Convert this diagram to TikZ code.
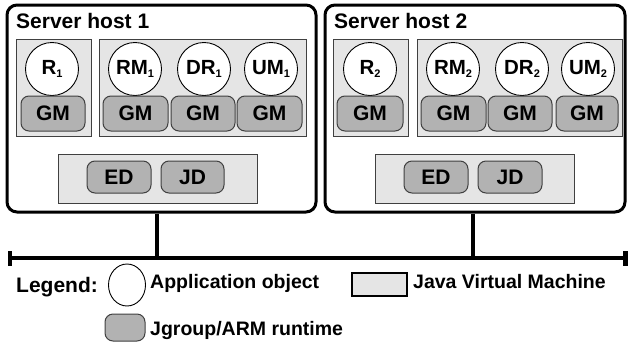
\documentclass[tikz,border=0pt]{standalone}
\usepackage{fontspec}
\setmainfont{Liberation Sans}
\usetikzlibrary{fit,shapes.geometric}

\definecolor{jvmfill}{gray}{0.9}
\definecolor{gmfill}{gray}{0.7}
\definecolor{edgegray}{gray}{0.25}

\newcommand\bfs[1]{\bfseries\fontsize{#1}{#1}\selectfont}
% small, lowered index after an object name
\newcommand\idx[1]{\raisebox{-0.32ex}{\fontsize{11}{11}\selectfont #1}}

\tikzset{
  host/.style={draw=black, line width=3pt, rounded corners=10pt, inner sep=0pt},
  jvm/.style={draw=edgegray, fill=jvmfill, line width=1pt, inner sep=0pt},
  gm/.style={draw=edgegray, fill=gmfill, line width=1pt, rounded corners=8pt,
             inner sep=0pt,
             label={[font=\bfs{21}, inner sep=0pt]center:#1}},
  app/.style={draw=black, fill=white, line width=0.9pt, circle, minimum size=53pt,
              inner sep=0pt, font=\bfs{20.5}},
  title/.style={anchor=base west, inner sep=0pt, font=\bfs{21}},
  bus/.style={line width=4.5pt},
  legtext/.style={anchor=base west, inner sep=0pt, font=\bfs{19.5}},
}

\begin{document}
\begin{tikzpicture}[x=1pt,y=-1pt]
  \useasboundingbox (0,0) rectangle (628,343);

  % ---------- Server host 1 ----------
  \node[host, fit={(7,5) (316,212)}] (h1) {};
  \node[title] (h1title) at (16,28) {Server host 1};

  \node[jvm, fit={(16,39) (91,136)}]  (h1ja) {};
  \node[jvm, fit={(99,39) (306,136)}] (h1jb) {};
  \node[jvm, fit={(58,154) (257,203)}] (h1jc) {};

  \node[app] (r1)  at (52,69)  {R\idx{1}};
  \node[app] (rm1) at (135,69) {RM\idx{1}};
  \node[app] (dr1) at (204,69) {DR\idx{1}};
  \node[app] (um1) at (271,69) {UM\idx{1}};

  \node[gm=GM, fit={(21,96) (85,131)}]   (gmr1)  {};
  \node[gm=GM, fit={(103,96) (168,131)}] (gmrm1) {};
  \node[gm=GM, fit={(171,96) (235,131)}] (gmdr1) {};
  \node[gm=GM, fit={(237,96) (302,131)}] (gmum1) {};

  \node[gm=ED, fit={(87,161) (151,193)}]  (ed1) {};
  \node[gm=JD, fit={(161,161) (224,193)}] (jd1) {};

  % ---------- Server host 2 ----------
  \node[host, fit={(325,5) (625,212)}] (h2) {};
  \node[title] (h2title) at (334,28) {Server host 2};

  \node[jvm, fit={(333,39) (408,136)}] (h2ja) {};
  \node[jvm, fit={(417,39) (622,136)}] (h2jb) {};
  \node[jvm, fit={(375,154) (574,203)}] (h2jc) {};

  \node[app] (r2)  at (370,69) {R\idx{2}};
  \node[app] (rm2) at (453,69) {RM\idx{2}};
  \node[app] (dr2) at (522,69) {DR\idx{2}};
  \node[app] (um2) at (588,69) {UM\idx{2}};

  \node[gm=GM, fit={(337,96) (403,131)}] (gmr2)  {};
  \node[gm=GM, fit={(421,96) (486,131)}] (gmrm2) {};
  \node[gm=GM, fit={(488,96) (552,131)}] (gmdr2) {};
  \node[gm=GM, fit={(556,96) (618,131)}] (gmum2) {};

  \node[gm=ED, fit={(404,161) (468,193)}] (ed2) {};
  \node[gm=JD, fit={(478,161) (542,193)}] (jd2) {};

  % ---------- network bus ----------
  \coordinate (busL) at (10,258);
  \coordinate (busR) at (625.5,258);
  \coordinate (tap1) at (157,258);
  \coordinate (tap2) at (473,258);
  \draw[bus] (busL) -- (busR);
  \draw[bus] ([yshift=-7.5pt]busL) -- ([yshift=7.5pt]busL);
  \draw[bus] ([yshift=-7.5pt]busR) -- ([yshift=7.5pt]busR);
  \draw[bus] (h1.south -| tap1) -- (tap1);
  \draw[bus] (h2.south -| tap2) -- (tap2);

  % ---------- legend ----------
  \node[anchor=base west, inner sep=0pt, font=\bfs{21}] (legend) at (16,292) {Legend:};
  \node[draw=black, fill=white, line width=0.9pt, ellipse, inner sep=0pt,
        minimum width=37pt, minimum height=42pt] (legapp) at (127,285) {};
  \node[legtext] (legapptext) at (150,288) {Application object};

  \node[draw=black, fill=jvmfill, line width=1.2pt, inner sep=0pt,
        fit={(352,273) (407,296)}] (legjvm) {};
  \node[legtext] (legjvmtext) at (413,288) {Java Virtual Machine};

  \node[gm={}, fit={(105,314) (145,341)}] (leggm) {};
  \node[legtext] (leggmtext) at (150,335) {Jgroup/ARM runtime};
\end{tikzpicture}
\end{document}
